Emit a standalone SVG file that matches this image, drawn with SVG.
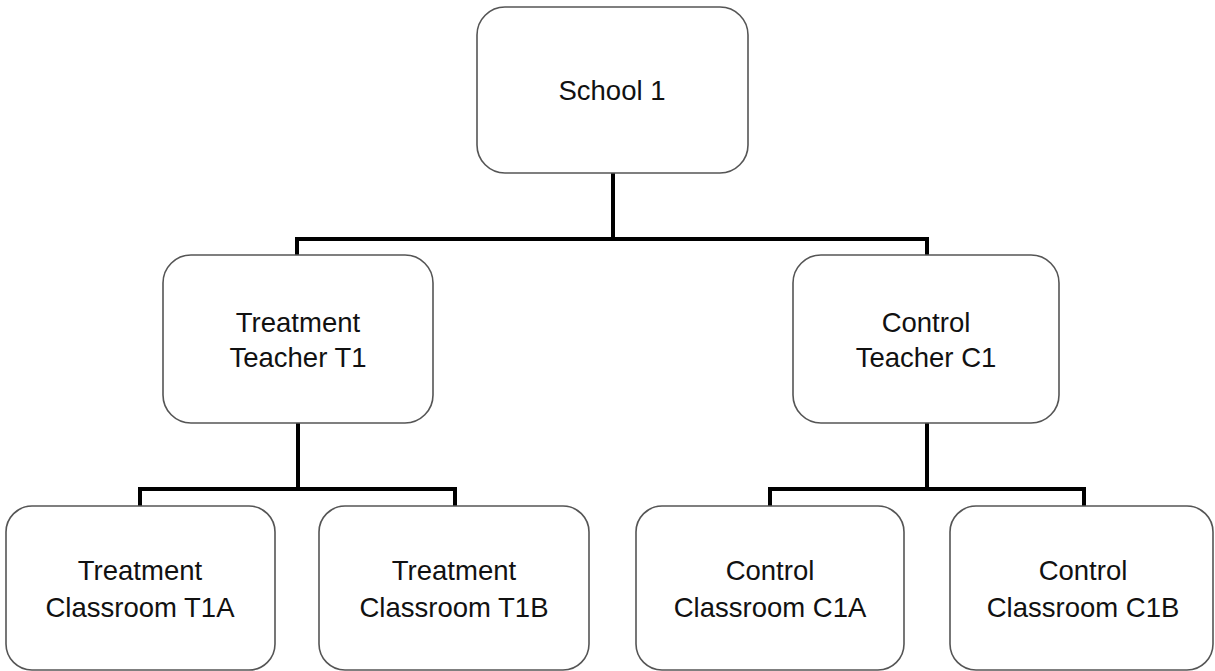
<svg xmlns="http://www.w3.org/2000/svg" width="1215" height="671" viewBox="0 0 1215 671">
<style>
.box{fill:#ffffff;stroke:#555555;stroke-width:1.6}
.lbl{font-family:"Liberation Sans",Arial,sans-serif;font-size:27.5px;fill:#111111;text-anchor:middle}
.conn{fill:none;stroke:#000000;stroke-width:4;stroke-linejoin:miter}
</style>
<rect width="1215" height="671" fill="#ffffff"/>
<g id="connectors">
<path class="conn" d="M613 173 V239 M297 255 V239 H927 V255"/>
<path class="conn" d="M298 423 V489 M140 506 V489 H455 V506"/>
<path class="conn" d="M927 423 V489 M770 506 V489 H1084 V506"/>
</g>
<g id="school1">
<rect class="box" x="477" y="7" width="271" height="166" rx="28"/>
<text class="lbl" x="612" y="100">School 1</text>
</g>
<g id="teacherT1">
<rect class="box" x="163" y="255" width="270" height="168" rx="28"/>
<text class="lbl" x="298" y="332">Treatment</text>
<text class="lbl" x="298" y="367">Teacher T1</text>
</g>
<g id="teacherC1">
<rect class="box" x="793" y="255" width="266" height="168" rx="28"/>
<text class="lbl" x="926" y="332">Control</text>
<text class="lbl" x="926" y="367">Teacher C1</text>
</g>
<g id="classT1A">
<rect class="box" x="6" y="506" width="269" height="164" rx="26"/>
<text class="lbl" x="140" y="580">Treatment</text>
<text class="lbl" x="140" y="617">Classroom T1A</text>
</g>
<g id="classT1B">
<rect class="box" x="319" y="506" width="270" height="164" rx="26"/>
<text class="lbl" x="454" y="580">Treatment</text>
<text class="lbl" x="454" y="617">Classroom T1B</text>
</g>
<g id="classC1A">
<rect class="box" x="636" y="506" width="268" height="164" rx="26"/>
<text class="lbl" x="770" y="580">Control</text>
<text class="lbl" x="770" y="617">Classroom C1A</text>
</g>
<g id="classC1B">
<rect class="box" x="950" y="506" width="263" height="164" rx="26"/>
<text class="lbl" x="1083" y="580">Control</text>
<text class="lbl" x="1083" y="617">Classroom C1B</text>
</g>
</svg>
